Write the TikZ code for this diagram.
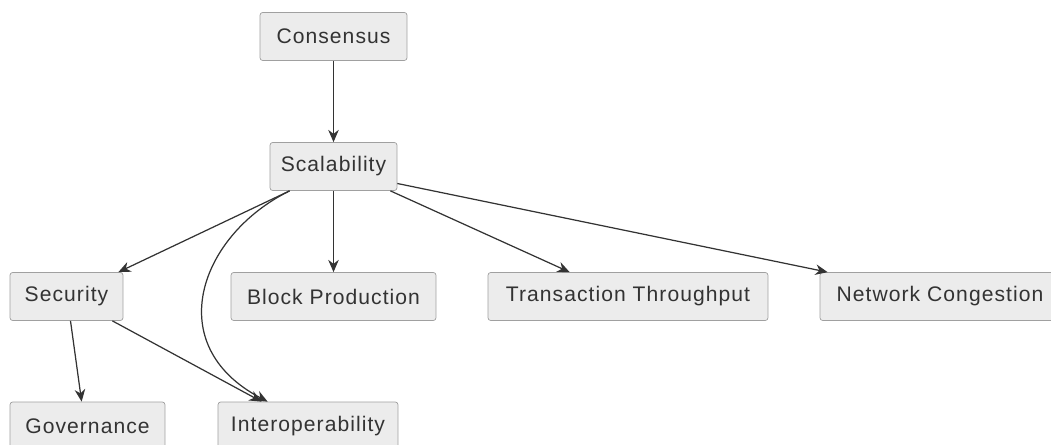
\documentclass[tikz,border=0pt]{standalone}
\usepackage{fontspec}
\setmainfont[LetterSpace=5]{Liberation Sans}
\usetikzlibrary{arrows.meta}
\definecolor{boxfill}{HTML}{ECECEC}
\definecolor{boxline}{HTML}{A0A0A0}
\definecolor{ink}{HTML}{333333}
\tikzset{
  box/.style={draw=boxline, fill=boxfill, rounded corners=1.5pt, text=ink,
    font=\fontsize{12}{14}\selectfont, minimum height=0.96cm, inner sep=0pt},
  link/.style={draw=ink, line width=0.7pt, -{Stealth[length=7pt,width=6pt]}}
}
\begin{document}
\begin{tikzpicture}[x=0.02cm,y=-0.02cm]
\useasboundingbox (0,0) rectangle (1051,445);

% Kutular
\node[box, minimum width=2.94cm] (cons) at (333.5,36.5) {Consensus};
\node[box, minimum width=2.54cm] (scal) at (333.5,166.5) {Scalability};
\node[box, minimum width=2.26cm] (sec) at (66.5,296.5) {Security};
\node[box, minimum width=4.1cm] (block) at (333.5,296.5) {Block Production};
\node[box, minimum width=5.6cm] (trans) at (628,296.5) {Transaction Throughput};
\node[box, minimum width=4.8cm] (net) at (940,296.5) {Network Congestion};
\node[box, minimum width=3.1cm] (gov) at (87.5,426) {Governance};
\node[box, minimum width=3.6cm] (inter) at (308,426) {Interoperability};

% Oklar
\draw[link] (cons) -- (scal);
\draw[link] ([xshift=0.4cm]scal.south west) -- ([xshift=-0.1cm]sec.north east);
\draw[link] ([xshift=0.4cm]scal.south west) .. controls (200,235) and (160,345) .. ([xshift=1cm]inter.north west);
\draw[link] (scal.south) -- (block.north);
\draw[link] ([xshift=-0.14cm]scal.south east) -- ([xshift=1.64cm]trans.north west);
\draw[link] ([yshift=-0.34cm]scal.east) -- ([xshift=0.16cm]net.north west);

\draw[link] ([xshift=0.08cm]sec.south) -- ([xshift=1.44cm]gov.north west);
\draw[link] ([xshift=-0.22cm]sec.south east) -- ([xshift=0.88cm]inter.north west);

\end{tikzpicture}
\end{document}
